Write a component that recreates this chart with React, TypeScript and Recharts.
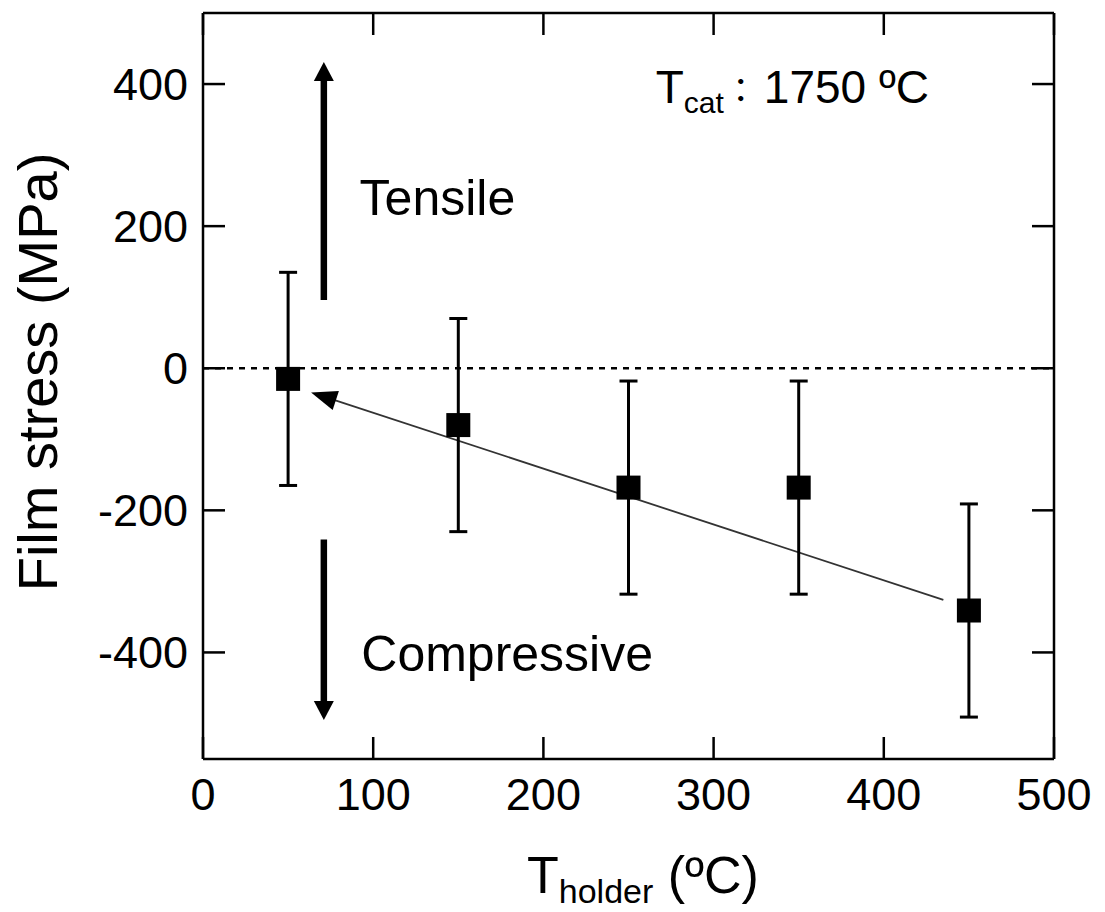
import { ComposedChart, Scatter, ErrorBar, XAxis, YAxis, ReferenceLine, ReferenceDot } from "recharts";

const holderTemps = [50, 150, 250, 350, 450];
const filmStress = [-15, -80, -168, -168, -341];
const stressError = [150, 150, 150, 150, 150];

const xTicks = [0, 100, 200, 300, 400, 500];
const yTicks = [-400, -200, 0, 200, 400];

// arrows: [tail, tip] in data units
const trendArrow = [{ x: 435, y: -326 }, { x: 63.5, y: -34 }];
const tensileArrow = [{ x: 71, y: 96 }, { x: 71, y: 431 }];
const compressiveArrow = [{ x: 71, y: -241 }, { x: 71, y: -495 }];

const noteLabels = ["Tensile", "Compressive"];
const noteX = [92, 93];
const noteY = [215, -426];
const catLabel = { x: 266, y: 374, text: "1750 ºC" };

const data = holderTemps.map((t, i) => ({ x: t, y: filmStress[i], err: stressError[i] }));

const FONT = "'Liberation Sans', Arial, Helvetica, sans-serif";
const AX = 2.5;

const BottomTick = ({ x, y, payload }: any) => (
  <g>
    <line x1={x} y1={y} x2={x} y2={y - 22} stroke="#000" strokeWidth={AX} />
    <text x={x} y={y + 51} textAnchor="middle" fontSize={45} fontFamily={FONT} fill="#000">
      {payload.value}
    </text>
  </g>
);

const LeftTick = ({ x, y, payload }: any) => (
  <g>
    <line x1={x} y1={y} x2={x + 22} y2={y} stroke="#000" strokeWidth={AX} />
    <text x={x - 15} y={y + 16} textAnchor="end" fontSize={45} fontFamily={FONT} fill="#000">
      {payload.value}
    </text>
  </g>
);

const TopTick = ({ x, y }: any) => (
  <line x1={x} y1={y} x2={x} y2={y + 22} stroke="#000" strokeWidth={AX} />
);

const RightTick = ({ x, y }: any) => (
  <line x1={x} y1={y} x2={x - 22} y2={y} stroke="#000" strokeWidth={AX} />
);

const Arrow = ({ x1, y1, x2, y2, w, head, headW, color }: any) => {
  const dx = x2 - x1;
  const dy = y2 - y1;
  const len = Math.hypot(dx, dy) || 1;
  const ux = dx / len;
  const uy = dy / len;
  const bx = x2 - ux * head;
  const by = y2 - uy * head;
  const px = (-uy * headW) / 2;
  const py = (ux * headW) / 2;
  return (
    <g>
      <line x1={x1} y1={y1} x2={bx + ux * 2} y2={by + uy * 2} stroke={color} strokeWidth={w} />
      <polygon points={`${x2},${y2} ${bx + px},${by + py} ${bx - px},${by - py}`} fill="#000" />
    </g>
  );
};

const XLabel = (props: any) => {
  const vb = props.viewBox || { x: 203, y: 759 };
  return (
    <text x={vb.x + 324} y={vb.y + 134} fontSize={52} fontFamily={FONT} fill="#000">
      <tspan>T</tspan>
      <tspan fontSize={34} dy={10}>holder</tspan>
      <tspan dy={-10}> (ºC)</tspan>
    </text>
  );
};

const YLabel = () => {
  const cx = 57;
  const cy = 372;
  return (
    <text x={cx} y={cy} transform={`rotate(-90, ${cx}, ${cy})`} textAnchor="middle" fontSize={56} fontFamily={FONT} fill="#000">
      Film stress (MPa)
    </text>
  );
};

const Square = (p: any) => <rect x={p.cx - 12} y={p.cy - 12} width={24} height={24} fill="#000" />;

export default function App() {
  return (
    <div style={{ position: "absolute", left: 0, top: 0 }}>
      <ComposedChart width={1105} height={912} data={data} margin={{ top: 12, right: 50, bottom: 0, left: 0 }}>
        <XAxis xAxisId="bottom" dataKey="x" type="number" domain={[0, 500]} ticks={xTicks} interval={0}
          height={153} tickSize={0} tickMargin={0} tickLine={false} tick={<BottomTick />}
          axisLine={{ stroke: "#000", strokeWidth: AX }} label={XLabel} />
        <XAxis xAxisId="top" orientation="top" dataKey="x" type="number" domain={[0, 500]} ticks={xTicks} interval={0}
          height={1} tickSize={0} tickMargin={0} tickLine={false} tick={<TopTick />}
          axisLine={{ stroke: "#000", strokeWidth: AX }} />
        <YAxis yAxisId="left" dataKey="y" type="number" domain={[-550, 500]} ticks={yTicks} interval={0}
          width={203} tickSize={0} tickMargin={0} tickLine={false} tick={<LeftTick />}
          axisLine={{ stroke: "#000", strokeWidth: AX }} label={YLabel} />
        <YAxis yAxisId="right" orientation="right" dataKey="y" type="number" domain={[-550, 500]} ticks={yTicks} interval={0}
          width={1} tickSize={0} tickMargin={0} tickLine={false} tick={<RightTick />}
          axisLine={{ stroke: "#000", strokeWidth: AX }} />

        <ReferenceLine xAxisId="bottom" yAxisId="left" y={0} stroke="#000" strokeWidth={2.5} strokeDasharray="6 6" />

        <ReferenceLine xAxisId="bottom" yAxisId="left" segment={trendArrow}
          shape={(p: any) => <Arrow {...p} w={1.8} head={26} headW={20} color="#333" />} />
        <ReferenceLine xAxisId="bottom" yAxisId="left" segment={tensileArrow}
          shape={(p: any) => <Arrow {...p} w={6.5} head={19} headW={20} color="#000" />} />
        <ReferenceLine xAxisId="bottom" yAxisId="left" segment={compressiveArrow}
          shape={(p: any) => <Arrow {...p} w={6.5} head={19} headW={20} color="#000" />} />

        {noteLabels.map((t, i) => (
          <ReferenceDot key={t} xAxisId="bottom" yAxisId="left" x={noteX[i]} y={noteY[i]} r={0}
            label={(lp: any) => (
              <text x={lp.viewBox.x} y={lp.viewBox.y} fontSize={50} fontFamily={FONT} fill="#000">{t}</text>
            )} />
        ))}
        <ReferenceDot xAxisId="bottom" yAxisId="left" x={catLabel.x} y={catLabel.y} r={0}
          label={(lp: any) => (
            <text x={lp.viewBox.x} y={lp.viewBox.y} fontSize={46} fontFamily={`${FONT}, 'Noto Sans CJK JP'`} fill="#000">
              <tspan>T</tspan>
              <tspan fontSize={30} dy={10}>cat</tspan>
              <tspan dy={-10} fontFamily="'Noto Sans CJK JP'" fontSize={34}>：</tspan>
              <tspan dx={6}>{catLabel.text}</tspan>
            </text>
          )} />

        <Scatter xAxisId="bottom" yAxisId="left" dataKey="y" data={data} shape={Square} isAnimationActive={false}>
          <ErrorBar dataKey="err" direction="y" width={9} strokeWidth={3} stroke="#000" isAnimationActive={false} />
        </Scatter>
      </ComposedChart>
    </div>
  );
}
